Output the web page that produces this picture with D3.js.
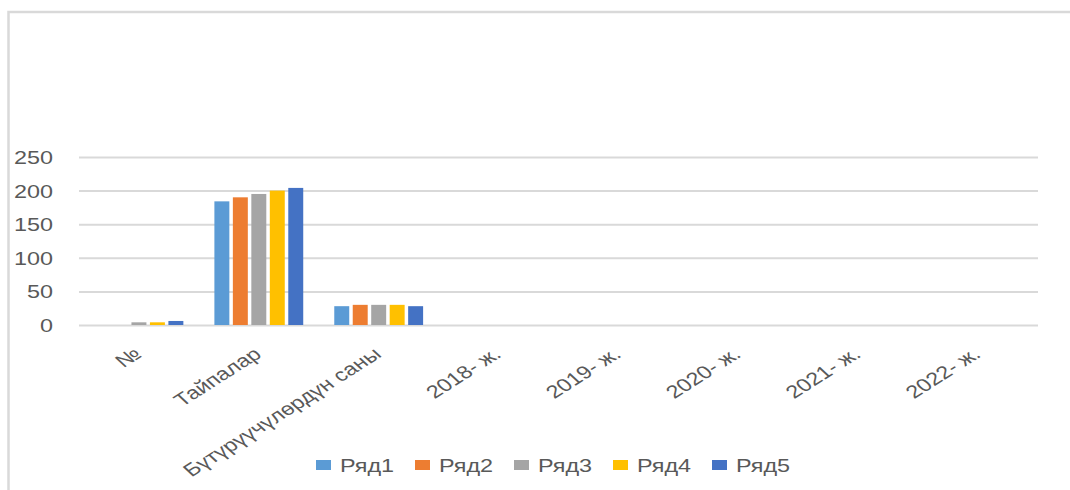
<!DOCTYPE html>
<html>
<head>
<meta charset="utf-8">
<script src="https://cdn.jsdelivr.net/npm/d3@7"></script>
<style>
  html, body { margin: 0; padding: 0; background: #fff; }
  svg { display: block; }
</style>
</head>
<body>
<svg id="chart" width="1070" height="490"></svg>
<script>
const categories = ["№", "Тайпалар", "Бүтүрүүчүлөрдүн саны", "2018- ж.", "2019- ж.", "2020- ж.", "2021- ж.", "2022- ж."];
const seriesNames = ["Ряд1", "Ряд2", "Ряд3", "Ряд4", "Ряд5"];
const ryad1 = [0, 184, 28, 0, 0, 0, 0, 0];
const ryad2 = [0, 190, 30, 0, 0, 0, 0, 0];
const ryad3 = [4, 195, 30, 0, 0, 0, 0, 0];
const ryad4 = [4, 200, 30, 0, 0, 0, 0, 0];
const ryad5 = [6, 204, 28, 0, 0, 0, 0, 0];
const yTicks = [0, 50, 100, 150, 200, 250];
const colors = ["#5B9BD5", "#ED7D31", "#A5A5A5", "#FFC000", "#4472C4"];

const seriesValues = [ryad1, ryad2, ryad3, ryad4, ryad5];
const FONT = "'Liberation Sans', Arial, sans-serif";
const TEXT = "#595959";
const GRID = "#d9d9d9";
const SX = 1.3;

const svg = d3.select("#chart");

// chart frame (only top/left visible)
svg.append("rect")
  .attr("x", 8.5).attr("y", 12)
  .attr("width", 1200).attr("height", 600)
  .attr("fill", "none").attr("stroke", GRID).attr("stroke-width", 2.5);

const plotLeft = 79, plotRight = 1038, plotTop = 157, plotBottom = 325;

const x0 = d3.scaleBand().domain(categories).range([plotLeft, plotRight]).padding(0);
const x1 = d3.scaleBand().domain(seriesNames).range([0, x0.bandwidth()])
  .paddingInner(0.19).paddingOuter(0.84);
const y = d3.scaleLinear().domain([0, 250]).range([plotBottom, plotTop]);

// gridlines
const grid = svg.append("g").attr("transform", `translate(${plotLeft},0)`)
  .call(d3.axisLeft(y).tickValues(yTicks).tickSize(-(plotRight - plotLeft)).tickFormat(""));
grid.select(".domain").remove();
grid.selectAll("line").attr("stroke", GRID).attr("stroke-width", 2);

// y labels
const yAx = svg.append("g").attr("transform", "translate(53,0)")
  .call(d3.axisLeft(y).tickValues(yTicks).tickSize(0).tickPadding(0));
yAx.select(".domain").remove();
yAx.selectAll("text")
  .attr("x", 0).attr("dy", "0.36em")
  .attr("transform", `scale(${SX},1)`)
  .attr("font-family", FONT).attr("font-size", 18).attr("fill", TEXT);

// bars
const groups = svg.append("g").selectAll("g")
  .data(categories).join("g")
  .attr("transform", d => `translate(${x0(d)},0)`);
groups.selectAll("rect")
  .data((c, i) => seriesNames.map((s, j) => ({ s, j, v: seriesValues[j][i] })))
  .join("rect")
  .attr("x", d => x1(d.s))
  .attr("width", x1.bandwidth())
  .attr("y", d => y(d.v))
  .attr("height", d => y(0) - y(d.v))
  .attr("fill", d => colors[d.j]);

// x labels
const xAx = svg.append("g").attr("transform", `translate(0,${plotBottom})`)
  .call(d3.axisBottom(x0).tickSize(0).tickPadding(0));
xAx.select(".domain").remove();
xAx.selectAll("text")
  .attr("y", 0).attr("dy", 0)
  .attr("text-anchor", "end")
  .attr("transform", `translate(4,31) scale(${SX},1) rotate(-39.6)`)
  .attr("font-family", FONT).attr("font-size", 18).attr("fill", TEXT);

// legend
const legendX = d3.scalePoint().domain(seriesNames).range([316, 712]);
const leg = svg.append("g").selectAll("g")
  .data(seriesNames).join("g")
  .attr("transform", d => `translate(${legendX(d)},460)`);
leg.append("rect")
  .attr("width", 15).attr("height", 10)
  .attr("fill", (d, i) => colors[i]);
leg.append("text")
  .attr("transform", `translate(24,11.5) scale(${SX},1)`)
  .attr("font-family", FONT).attr("font-size", 18).attr("fill", TEXT)
  .text(d => d);
</script>
</body>
</html>
